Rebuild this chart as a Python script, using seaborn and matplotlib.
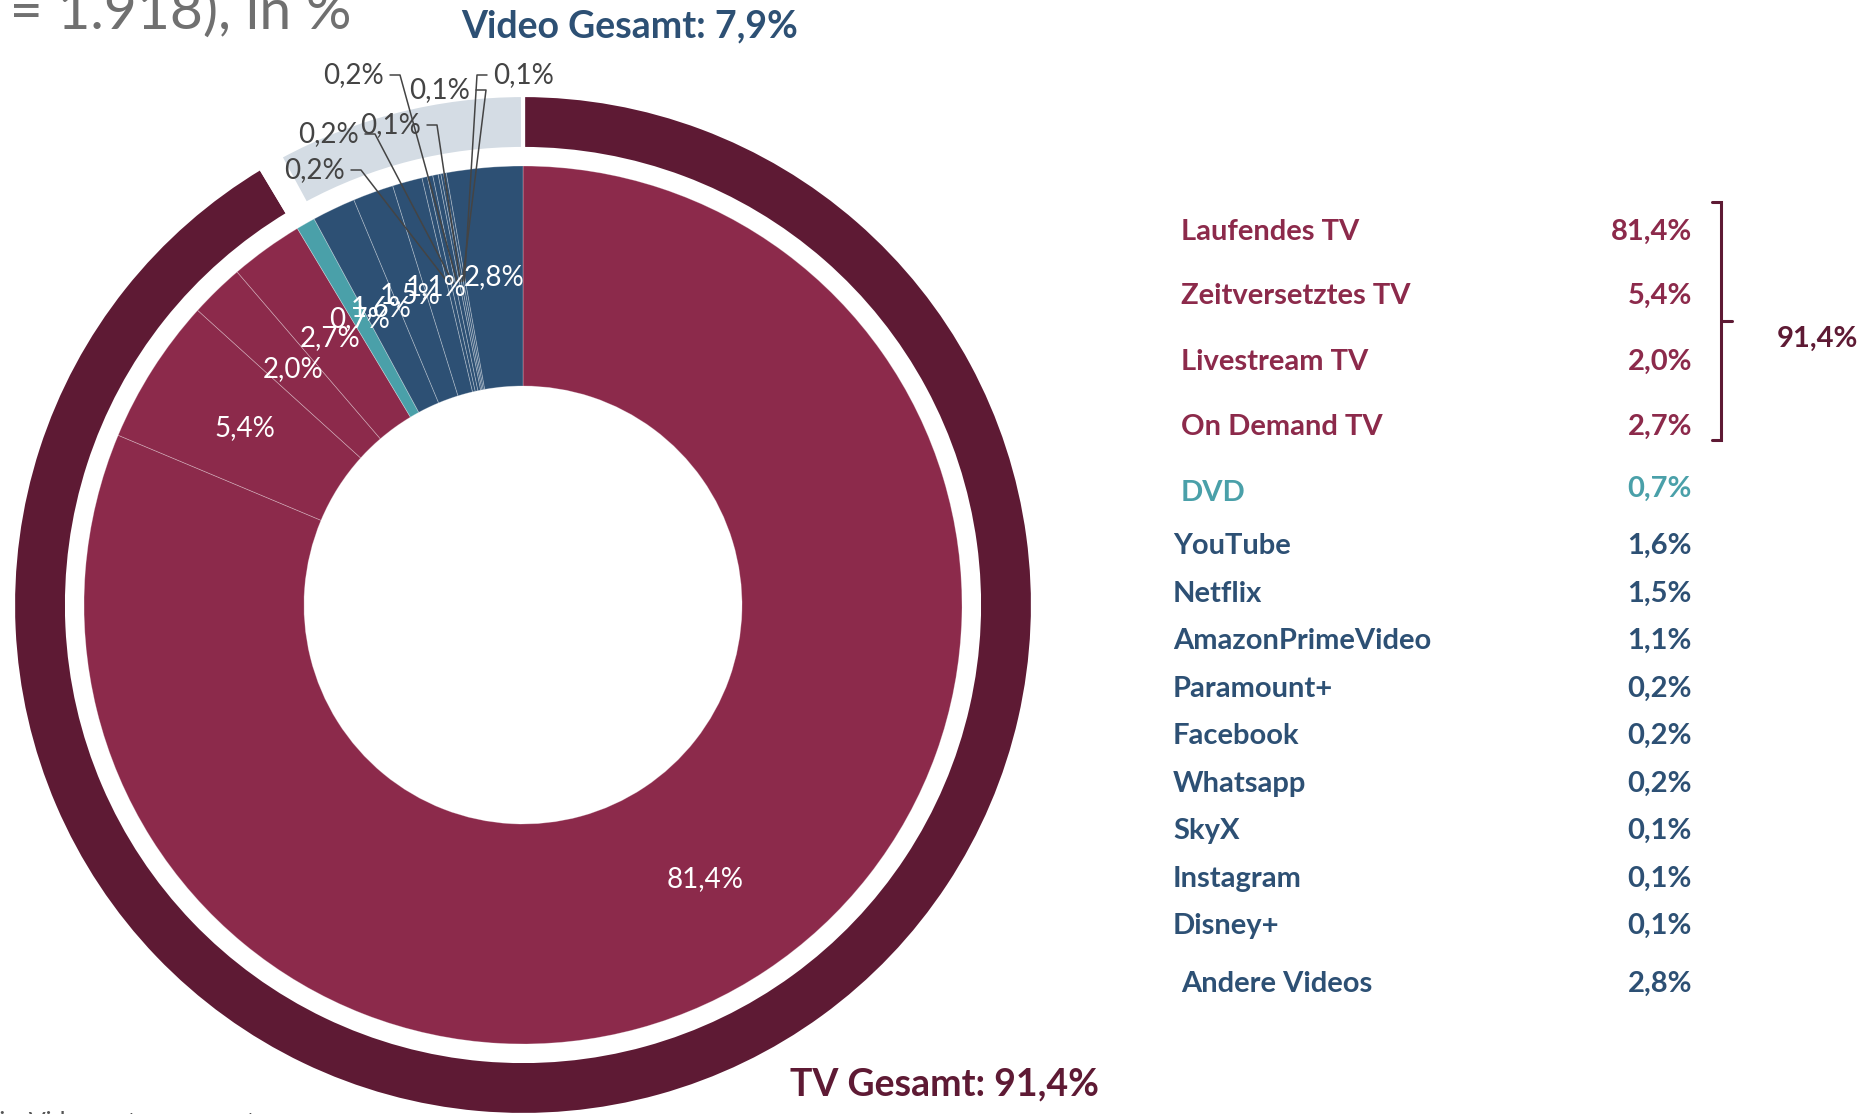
import numpy as np
import matplotlib.pyplot as plt
import seaborn as sns

# canvas in pixels, so text/positions below are pixel coords (y from top)
W, H = 1864, 1114

tv_labels = ["Laufendes TV", "Zeitversetztes TV", "Livestream TV", "On Demand TV"]
tv_values = [81.4, 5.4, 2.0, 2.7]
dvd_label = "DVD"
dvd_value = 0.7
video_labels = ["YouTube", "Netflix", "AmazonPrimeVideo", "Paramount+", "Facebook",
                "Whatsapp", "SkyX", "Instagram", "Disney+", "Andere Videos"]
video_values = [1.6, 1.5, 1.1, 0.2, 0.2, 0.2, 0.1, 0.1, 0.1, 2.8]

group_labels = ["TV Gesamt", "DVD", "Video Gesamt"]
group_values = [91.4, 0.7, 7.9]

MAROON = "#8c2a4b"
DARK = "#5e1a34"
TEAL = "#4aa0a9"
NAVY = "#2d5074"
LIGHT = "#d4dce4"
GREY_TXT = "#444444"


def fmt(v):
    return f"{v:.1f}".replace(".", ",") + "%"


def fy(y):
    return H - y


sns.set_theme(style="white")
plt.rcParams["font.family"] = ["Lato", "DejaVu Sans"]

fig = plt.figure(figsize=(W / 100, H / 100), dpi=100)
ax = fig.add_axes([0, 0, 1, 1])

cx, cy = 523, fy(605)
R_out, R_out_in = 510, 456
R_in, R_hole = 439, 219

# outer ring: TV / (DVD gap) / Video
ax.pie(group_values, colors=[DARK, "white", LIGHT], startangle=90, counterclock=False,
       center=(cx, cy), radius=R_out,
       wedgeprops=dict(width=R_out - R_out_in, edgecolor="white", linewidth=3))

# inner ring: single categories
inner_vals = tv_values + [dvd_value] + video_values
inner_cols = [MAROON] * len(tv_values) + [TEAL] + [NAVY] * len(video_values)
wedges, _ = ax.pie(inner_vals, colors=inner_cols, startangle=90, counterclock=False,
                   center=(cx, cy), radius=R_in,
                   wedgeprops=dict(width=R_in - R_hole, edgecolor=(1, 1, 1, 0.3), linewidth=0.6))

ax.set_xlim(0, W)
ax.set_ylim(0, H)
ax.set_aspect("equal")
ax.axis("off")

# label positions for the tiny slices (text anchor, alignment)
small_pos = [(345, 170, "right"), (359, 134, "right"), (384, 75, "right"),
             (421, 125, "right"), (470, 90, "right"), (493, 75, "left")]
k = 0
for w, v in zip(wedges, inner_vals):
    ang = np.deg2rad((w.theta1 + w.theta2) / 2)
    r = 0.75 * R_in
    px, py = cx + r * np.cos(ang), cy + r * np.sin(ang)
    if v >= 0.5:
        ax.text(px, py, fmt(v), color="white", fontsize=20, ha="center", va="center")
    else:
        tx, ty, ha = small_pos[k]
        k += 1
        ax.text(tx, fy(ty), fmt(v), ha=ha, va="center", fontsize=20, color=GREY_TXT)
        sgn = 1 if ha == "right" else -1
        x0, x1 = tx + sgn * 6, tx + sgn * 16
        ax.plot([x0, x1, px], [fy(ty), fy(ty), py], color=GREY_TXT, lw=1.1)

# headline fragments
ax.text(351, fy(29), "(n = 1.918), in %", ha="right", va="baseline", fontsize=41,
        fontweight="normal", color="#707070")
ax.text(-40, fy(1123), "Basis: Videosystem gesamt", ha="left", va="center", fontsize=18,
        color="#555555")
ax.text(630, fy(26), f"{group_labels[2]}: {fmt(group_values[2])}", ha="center", va="center",
        fontsize=27, fontweight="bold", color=NAVY)
ax.text(945, fy(1084), f"{group_labels[0]}: {fmt(group_values[0])}", ha="center", va="center",
        fontsize=27, fontweight="bold", color=DARK)

# legend table
dy = 4
rows_tv = [228, 292, 358, 423]
for lab, v, y in zip(tv_labels, tv_values, rows_tv):
    ax.text(1181, fy(y + dy), lab, ha="left", va="center", fontsize=21, fontweight="bold", color=MAROON)
    ax.text(1692, fy(y + dy), fmt(v), ha="right", va="center", fontsize=21, fontweight="bold", color=MAROON)

ax.text(1181, fy(489 + dy), dvd_label, ha="left", va="center", fontsize=21, fontweight="bold", color=TEAL)
ax.text(1692, fy(485 + dy), fmt(dvd_value), ha="right", va="center", fontsize=21, fontweight="bold", color=TEAL)

rows_vid = [542, 590, 637, 685, 732, 780, 827, 875, 922, 980]
for lab, v, y in zip(video_labels, video_values, rows_vid):
    x = 1181 if lab == "Andere Videos" else 1173
    ax.text(x, fy(y + dy), lab, ha="left", va="center", fontsize=21, fontweight="bold", color=NAVY)
    ax.text(1692, fy(y + dy), fmt(v), ha="right", va="center", fontsize=21, fontweight="bold", color=NAVY)

# bracket for TV total
bx, btop, bbot, bmid = 1721, 202, 440, 321
ax.plot([1712, bx, bx, 1712], [fy(btop), fy(btop), fy(bbot), fy(bbot)], color=DARK, lw=2.2,
        solid_joinstyle="miter")
ax.plot([bx, 1732], [fy(bmid), fy(bmid)], color=DARK, lw=2.2)
ax.text(1817, fy(335 + dy), fmt(group_values[0]), ha="center", va="center", fontsize=21,
        fontweight="bold", color=DARK)

fig.savefig("out.png", dpi=100)
